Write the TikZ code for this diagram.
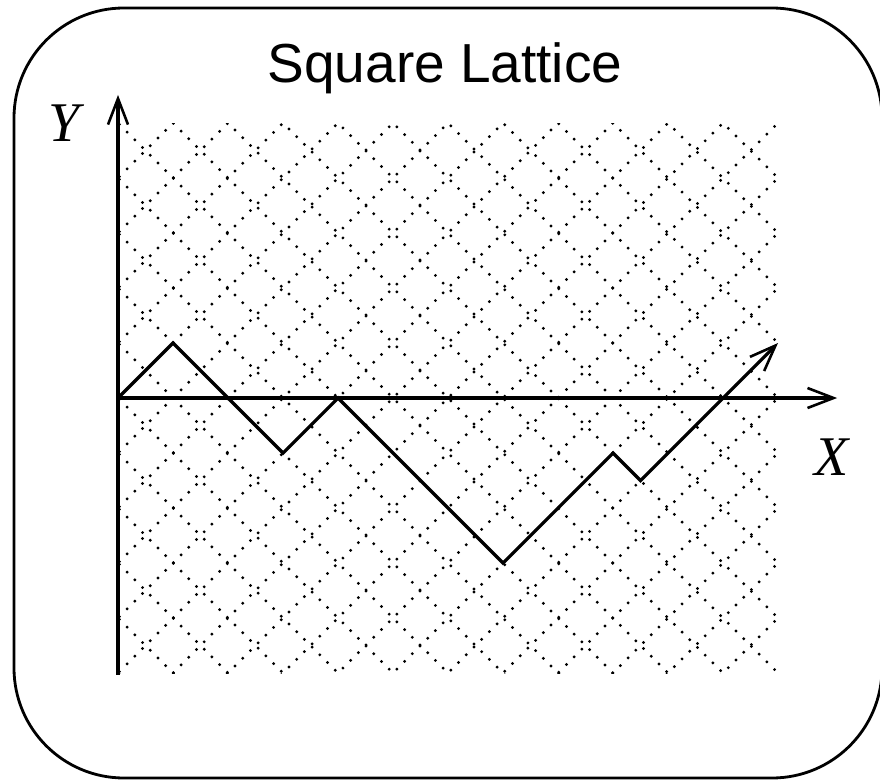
\documentclass[tikz,border=0pt]{standalone}
\usepackage{fontspec}
\setmainfont{Liberation Sans}
\newfontfamily\axisfont{Liberation Serif}
\usepackage{tikz}
\usetikzlibrary{arrows.meta}

\begin{document}
\begin{tikzpicture}[
    x=27.5pt, y=27.5pt,
    frame/.style={
        draw,
        line width=2.8pt,
        rounded corners=110pt
    },
    lattice/.style={
        line width=3.2pt,
        line cap=round,
        dash pattern=on 0pt off 10.9pt
    },
    axis/.style={
        line width=3.2pt,
        -{Straight Barb[length=26pt, width=20pt, line width=2.6pt]}
    },
    walk/.style={
        line width=3.2pt,
        line join=miter,
        -{Straight Barb[length=26pt, width=20pt, line width=2.6pt]}
    },
    title/.style={
        anchor=base,
        font=\fontsize{55}{60}\selectfont
    },
    axislabel/.style={
        anchor=base,
        font=\axisfont\itshape\fontsize{56}{60}\selectfont
    }
]

% Page size and outer frame
\useasboundingbox (-4.291,-13.855) rectangle (27.709,14.473);
\begin{scope}
    \clip (-4.291,-13.855) rectangle (27.709,14.473);
    \draw[frame] (-3.782,-13.818) rectangle (27.782,14.182);
\end{scope}

% Title
\node[title] (heading) at (11.89,11.49) {Square Lattice};

% Dotted lattice lines
\begin{scope}
    \clip (0,-10) rectangle (24,10);
    \foreach \c in {-34,-32,...,10}
        \draw[lattice] (-12,{-12+\c}) -- (36,{36+\c});
    \foreach \c in {-10,-8,...,34}
        \draw[lattice] (-12,{12+\c}) -- (36,{-36+\c});
\end{scope}

% Axes
\coordinate (origin) at (0,0);
\coordinate (ybottom) at (0,-10.07);
\coordinate (ytip) at (0,11.02);
\coordinate (xtip) at (26.15,0);
\draw[axis] (ybottom) -- (ytip);
\draw[axis] (origin) -- (xtip);
\node[axislabel] (ylabel) at (-1.96,9.31) {Y};
\node[axislabel] (xlabel) at (25.96,-2.8) {X};

% Random walk
\draw[walk] (origin) -- ++(2,2) -- ++(4,-4) -- ++(2,2) -- ++(6,-6)
    -- ++(4,4) -- ++(1,-1) -- ++(5,5);

\end{tikzpicture}
\end{document}
